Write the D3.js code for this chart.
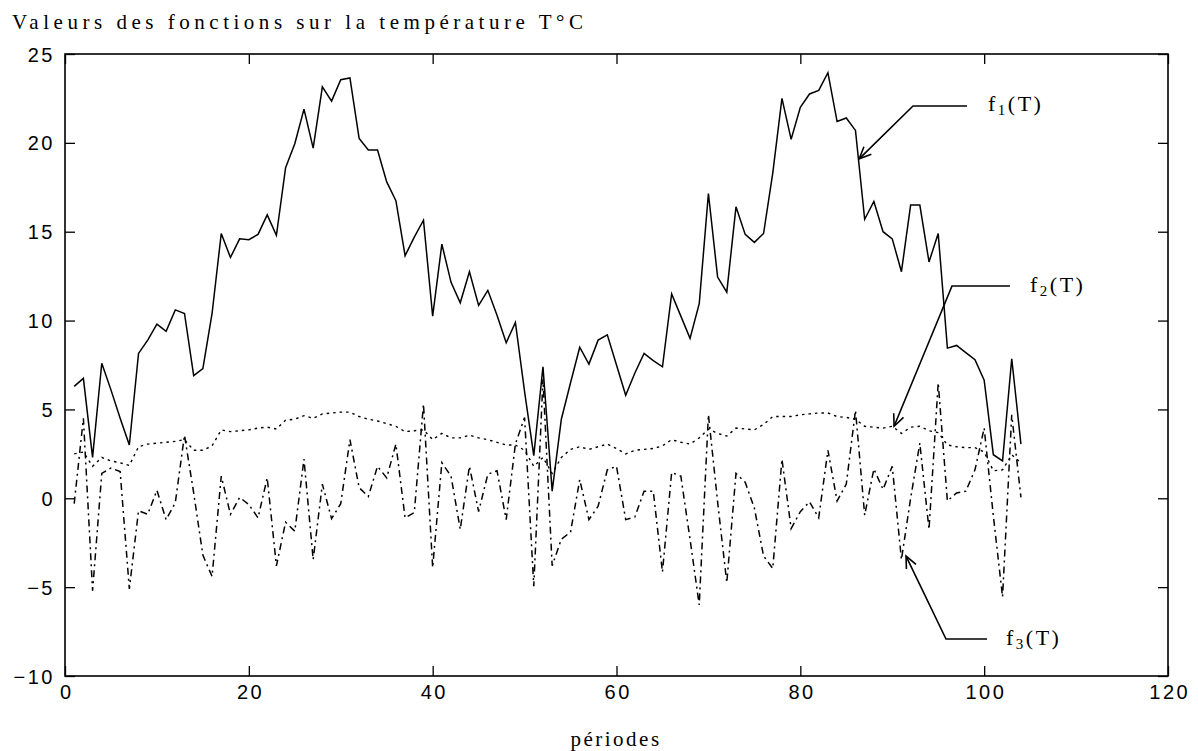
<!DOCTYPE html>
<html>
<head>
<meta charset="utf-8">
<script src="https://cdn.jsdelivr.net/npm/d3@7"></script>
<style>
  html, body { margin: 0; padding: 0; background: #fff; }
  svg { display: block; }
</style>
</head>
<body>
<svg id="chart" width="1198" height="751"></svg>
<script>
// ---- data ----
const f1 = [6.3, 6.75, 2.3, 7.6, 6.1, 4.5, 3.0, 8.15, 8.9, 9.8,
  9.4, 10.6, 10.4, 6.9, 7.3, 10.4, 14.9, 13.55, 14.6, 14.55,
  14.85, 15.95, 14.8, 18.6, 19.95, 21.9, 19.7, 23.15, 22.35, 23.55,
  23.65, 20.25, 19.6, 19.6, 17.8, 16.75, 13.65, 14.7, 15.65, 10.25,
  14.3, 12.15, 11.0, 12.75, 10.85, 11.7, 10.3, 8.75, 9.9, 6.0,
  2.4, 7.4, 0.4, 4.45, 6.5, 8.5, 7.55, 8.9, 9.2, 7.5,
  5.8, 7.05, 8.15, 7.75, 7.4, 11.5, 10.25, 9.0, 10.95, 17.15,
  12.45, 11.6, 16.4, 14.85, 14.4, 14.9, 18.3, 22.5, 20.2, 22.0,
  22.75, 22.95, 23.95, 21.2, 21.4, 20.7, 15.7, 16.7, 15.0, 14.6,
  12.75, 16.5, 16.5, 13.3, 14.9, 8.45, 8.6, 8.2, 7.8, 6.65,
  2.45, 2.1, 7.85, 3.05];

const f2 = [2.5, 2.6, 1.8, 2.3, 2.1, 2.0, 1.85, 2.9, 3.05, 3.1,
  3.15, 3.2, 3.3, 2.7, 2.7, 2.95, 3.85, 3.75, 3.8, 3.85,
  3.95, 4.0, 3.9, 4.4, 4.45, 4.65, 4.5, 4.75, 4.8, 4.85,
  4.85, 4.6, 4.45, 4.35, 4.2, 4.05, 3.75, 3.8, 3.85, 3.3,
  3.65, 3.4, 3.4, 3.55, 3.4, 3.3, 3.15, 3.0, 3.0, 2.7,
  1.8, 2.3, 1.4, 2.3, 2.75, 2.9, 2.75, 2.9, 3.05, 2.8,
  2.5, 2.7, 2.75, 2.8, 2.95, 3.3, 3.15, 3.05, 3.4, 3.9,
  3.65, 3.5, 3.95, 3.9, 3.85, 4.15, 4.6, 4.6, 4.6, 4.7,
  4.75, 4.8, 4.8, 4.6, 4.55, 4.45, 4.05, 4.0, 3.95, 4.05,
  3.65, 4.0, 4.05, 3.8, 3.7, 3.0, 2.9, 2.85, 2.85, 2.6,
  1.55, 1.6, 2.45, 2.0];

const f3 = [-0.3, 4.5, -5.2, 1.4, 1.7, 1.5, -5.1, -0.7, -0.9, 0.45,
  -1.2, -0.25, 3.55, 0.3, -3.2, -4.4, 1.25, -0.9, 0.05, -0.35,
  -1.1, 1.15, -3.8, -1.35, -1.85, 2.2, -3.45, 0.8, -1.15, -0.3,
  3.3, 0.6, 0.1, 1.8, 1.15, 3.05, -1.1, -0.8, 5.3, -3.9,
  2.0, 1.25, -1.75, 1.8, -0.75, 1.35, 1.55, -1.2, 3.05, 4.55,
  -4.95, 6.7, -3.8, -2.3, -1.9, 1.05, -1.2, -0.45, 1.6, 1.8,
  -1.2, -1.05, 0.4, 0.4, -4.15, 1.45, 1.25, -2.3, -6.0, 4.7,
  -0.2, -4.75, 1.4, 0.9, -0.55, -3.25, -3.95, 2.2, -1.7, -0.75,
  -0.2, -1.1, 2.7, -0.15, 0.8, 4.95, -0.95, 1.65, 0.5, 1.8,
  -3.45, 0.0, 3.1, -1.75, 6.5, -0.15, 0.3, 0.4, 1.6, 3.95,
  -1.0, -5.55, 4.7, 0.05];

const periods = f1.map((_, i) => i + 1);
const xTicks = [0, 20, 40, 60, 80, 100, 120];
const yTicks = [-10, -5, 0, 5, 10, 15, 20, 25];
const titleText = "Valeurs des fonctions sur la température T°C";
const xLabel = "périodes";
const seriesNames = ["1", "2", "3"];

// ---- layout ----
const L = 65, R = 1168, T = 54, B = 676;
const svg = d3.select("#chart");
const x = d3.scaleLinear().domain([0, 120]).range([L, R]);
const y = d3.scaleLinear().domain([-10, 25]).range([B, T]);

// frame
svg.append("rect").attr("x", L).attr("y", T).attr("width", R - L).attr("height", B - T)
  .attr("fill", "none").attr("stroke", "#000").attr("stroke-width", 1.6);

const tickLen = 10;
const gB = svg.append("g").attr("transform", `translate(0,${B})`)
  .call(d3.axisBottom(x).tickValues(xTicks).tickSizeInner(-tickLen).tickSizeOuter(0).tickPadding(9));
const gT = svg.append("g").attr("transform", `translate(0,${T})`)
  .call(d3.axisTop(x).tickValues(xTicks).tickSizeInner(-tickLen).tickSizeOuter(0).tickFormat(""));
const gL = svg.append("g").attr("transform", `translate(${L},0)`)
  .call(d3.axisLeft(y).tickValues(yTicks).tickSizeInner(-tickLen).tickSizeOuter(0).tickPadding(10));
const gR = svg.append("g").attr("transform", `translate(${R},0)`)
  .call(d3.axisRight(y).tickValues(yTicks).tickSizeInner(-tickLen).tickSizeOuter(0).tickFormat(""));
[gB, gT, gL, gR].forEach(g => {
  g.select(".domain").remove();
  g.selectAll(".tick line").attr("stroke", "#000").attr("stroke-width", 1.3);
});
[gB, gL].forEach(g => {
  g.selectAll(".tick text")
    .attr("font-family", "'Liberation Sans', Arial, sans-serif")
    .attr("font-size", 20).attr("fill", "#000")
    .style("letter-spacing", "2.5px");
});
gB.selectAll(".tick text").attr("dy", "0.71em").attr("dx", "1.2px");
gL.selectAll(".tick text").attr("dy", "0.35em");

// lines
const line = d3.line().x((d, i) => x(periods[i])).y(d => y(d));
svg.append("path").datum(f1).attr("d", line)
  .attr("fill", "none").attr("stroke", "#000").attr("stroke-width", 1.5).attr("stroke-linejoin", "miter");
svg.append("path").datum(f2).attr("d", line)
  .attr("fill", "none").attr("stroke", "#000").attr("stroke-width", 1.4).attr("stroke-dasharray", "2.5,4");
svg.append("path").datum(f3).attr("d", line)
  .attr("fill", "none").attr("stroke", "#000").attr("stroke-width", 1.5).attr("stroke-dasharray", "7,4,2,4");

// title
svg.append("text").attr("x", 12).attr("y", 29)
  .attr("font-family", "'Liberation Serif', 'Times New Roman', serif")
  .attr("font-size", 21).attr("fill", "#000")
  .attr("textLength", 571).attr("lengthAdjust", "spacing")
  .text(titleText);

// x label
svg.append("text").attr("x", 616).attr("y", 746).attr("text-anchor", "middle")
  .attr("font-family", "'Liberation Serif', 'Times New Roman', serif")
  .attr("font-size", 21).attr("fill", "#000")
  .style("letter-spacing", "2.5px")
  .text(xLabel);

// annotations
const annots = [
  { name: seriesNames[0], lx: 988, ly: 111, hx1: 913, hx2: 967, hy: 106, tx: 86.4, ty: f1[85] - 1.6 },
  { name: seriesNames[1], lx: 1030, ly: 292, hx1: 952, hx2: 1010, hy: 286, tx: 90.2, ty: f2[89] },
  { name: seriesNames[2], lx: 1006, ly: 645, hx1: 946, hx2: 987, hy: 639, tx: 91.5, ty: f3[90] + 0.2 }
];
annots.forEach(a => {
  const tipX = x(a.tx), tipY = y(a.ty);
  svg.append("path")
    .attr("d", `M${a.hx2},${a.hy} L${a.hx1},${a.hy} L${tipX},${tipY}`)
    .attr("fill", "none").attr("stroke", "#000").attr("stroke-width", 1.6);
  const ang = Math.atan2(a.hy - tipY, a.hx1 - tipX);
  const hl = 13, spread = 0.42;
  const p1 = [tipX + hl * Math.cos(ang + spread), tipY + hl * Math.sin(ang + spread)];
  const p2 = [tipX + hl * Math.cos(ang - spread), tipY + hl * Math.sin(ang - spread)];
  svg.append("path")
    .attr("d", `M${p1[0]},${p1[1]} L${tipX},${tipY} L${p2[0]},${p2[1]}`)
    .attr("fill", "none").attr("stroke", "#000").attr("stroke-width", 1.6);
  const t = svg.append("text").attr("x", a.lx).attr("y", a.ly)
    .attr("font-family", "'Liberation Serif', 'Times New Roman', serif")
    .attr("font-size", 22).attr("fill", "#000")
    .style("letter-spacing", "2.5px");
  t.append("tspan").text("f");
  t.append("tspan").attr("font-size", 15).attr("dy", 4).text(a.name);
  t.append("tspan").attr("dy", -4).text("(T)");
});
</script>
</body>
</html>
